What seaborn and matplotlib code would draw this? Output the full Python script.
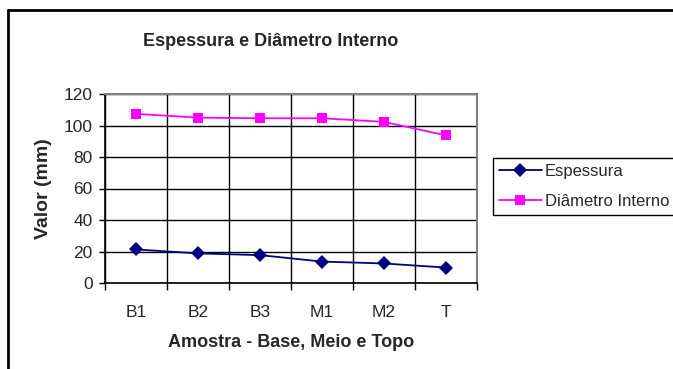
import numpy as np
import pandas as pd
import seaborn as sns
import matplotlib.pyplot as plt
from matplotlib.lines import Line2D
from matplotlib.ticker import FixedLocator

amostras = ["B1", "B2", "B3", "M1", "M2", "T"]
espessura = [21.3, 18.8, 17.7, 13.6, 12.4, 9.8]
diametro = [107.4, 105.0, 104.6, 104.6, 102.3, 93.7]
series = ["Espessura", "Diâmetro Interno"]

df = pd.DataFrame({
    "Amostra": amostras * 2,
    "Valor": espessura + diametro,
    "Serie": [series[0]] * len(amostras) + [series[1]] * len(amostras),
})

sns.set_style("white")
plt.rcParams["font.family"] = ["Liberation Sans", "DejaVu Sans"]

fig = plt.figure(figsize=(6.73, 3.69), dpi=100)
ax = fig.add_axes([105 / 673, 1 - 283 / 369, 372 / 673, 189 / 369])

sns.lineplot(
    data=df, x="Amostra", y="Valor", hue="Serie", style="Serie",
    palette={series[0]: "#000080", series[1]: "#FF00FF"},
    markers={series[0]: "D", series[1]: "s"}, dashes=False,
    markersize=7, markeredgewidth=0, linewidth=1.3, sort=False, ax=ax,
)

n = len(amostras)
ax.set_xlim(-0.5, n - 0.5)
ax.set_ylim(0, 120)
ax.set_yticks(np.arange(0, 121, 20))
ax.xaxis.set_minor_locator(FixedLocator(np.arange(-0.5, n, 1.0)))
ax.grid(True, axis="y", which="major", color="black", linewidth=1)
ax.grid(True, axis="x", which="minor", color="black", linewidth=1)
ax.grid(False, axis="x", which="major")
ax.set_axisbelow(True)
ax.tick_params(axis="x", which="major", length=0, pad=16, labelsize=12.5)
ax.tick_params(axis="x", which="minor", length=5, width=1, color="black", direction="out")
ax.tick_params(axis="y", length=4, width=1, color="black", direction="out", labelsize=12.5, pad=5)
ax.tick_params(bottom=True, left=True, which="both")

for side in ["left", "bottom"]:
    ax.spines[side].set_color("black")
    ax.spines[side].set_linewidth(1.2)
for side in ["top", "right"]:
    ax.spines[side].set_color("#808080")
    ax.spines[side].set_linewidth(1.5)

ax.set_xlabel("Amostra - Base, Meio e Topo", fontsize=13, fontweight="bold", labelpad=10)
ax.set_ylabel("Valor (mm)", fontsize=14, fontweight="bold", labelpad=8)

fig.text(271 / 673, 1 - 42 / 369, "Espessura e Diâmetro Interno",
         ha="center", va="center", fontsize=13, fontweight="bold")

handles, labels = ax.get_legend_handles_labels()
ax.legend(handles, labels, loc="upper left", bbox_to_anchor=(493 / 673, 1 - 158 / 369),
          bbox_transform=fig.transFigure, fontsize=12, frameon=True, fancybox=False,
          edgecolor="black", framealpha=1, borderpad=0.35, labelspacing=0.9,
          handlelength=2.6, handletextpad=0.15, borderaxespad=0)
ax.get_legend().get_frame().set_linewidth(1)

# outer chart border
fig.add_artist(Line2D([8 / 673, 1], [1 - 10 / 369] * 2, color="black", linewidth=2,
                      transform=fig.transFigure))
fig.add_artist(Line2D([8 / 673] * 2, [0, 1 - 10 / 369], color="black", linewidth=2,
                      transform=fig.transFigure))

fig.savefig("out.png", dpi=100)
